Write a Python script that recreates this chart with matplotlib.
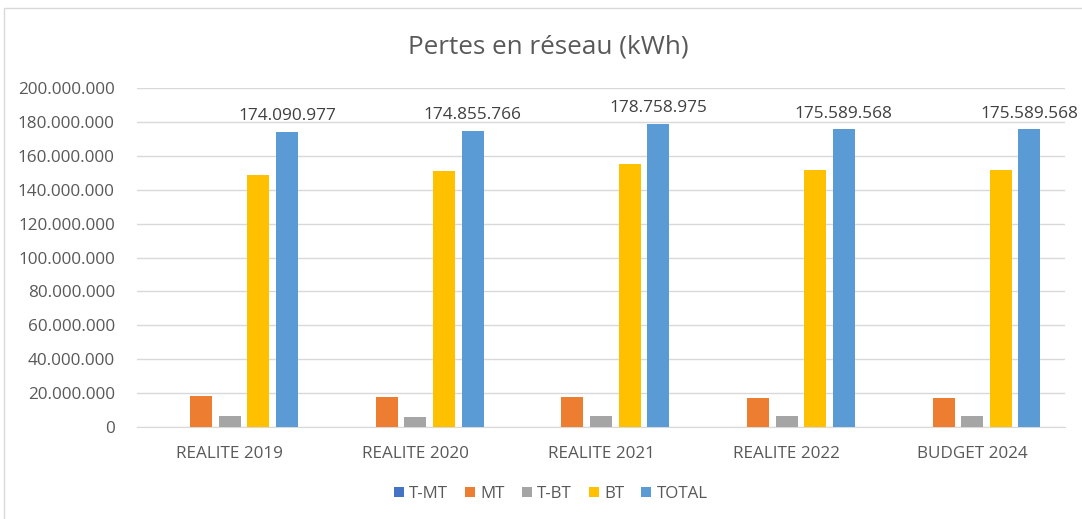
import numpy as np
import matplotlib.pyplot as plt
from matplotlib.patches import Rectangle

# Data
categories = ["REALITE 2019", "REALITE 2020", "REALITE 2021", "REALITE 2022", "BUDGET 2024"]
series_names = ["T-MT", "MT", "T-BT", "BT", "TOTAL"]
t_mt = [0, 0, 0, 0, 0]
mt = [18_500_000, 17_400_000, 17_400_000, 17_200_000, 17_200_000]
t_bt = [6_400_000, 5_800_000, 6_400_000, 6_400_000, 6_400_000]
bt = [148_700_000, 150_800_000, 154_900_000, 151_600_000, 151_600_000]
total = [174_090_977, 174_855_766, 178_758_975, 175_589_568, 175_589_568]
colors = ["#4472C4", "#ED7D31", "#A5A5A5", "#FFC000", "#5B9BD5"]

def fmt(v):
    return f"{v:,.0f}".replace(",", ".")

plt.rcParams['font.family'] = ['Open Sans', 'DejaVu Sans']
fig = plt.figure(figsize=(10.82, 5.19), dpi=100)
ax = fig.add_axes([0.1266, 0.1773, 0.8577, 0.653])

# outer chart frame
fig.patches.append(Rectangle((0.004, -0.01), 1.1, 0.995, transform=fig.transFigure,
                             fill=False, edgecolor="#d9d9d9", linewidth=1))

x = np.arange(len(categories))
slot = 0.154
width = 0.119
all_series = [t_mt, mt, t_bt, bt, total]
for i, (name, vals) in enumerate(zip(series_names, all_series)):
    pos = x + (i - 2) * slot
    bars = ax.bar(pos, vals, width, color=colors[i], label=name, zorder=3)
    if name == "TOTAL":
        for p, v in zip(pos, vals):
            ax.text(p, v + 4_500_000, fmt(v), ha="center", va="bottom",
                    fontsize=12.4, color="#404040")

ax.set_xlim(-0.5, 4.5)
ax.set_ylim(0, 200_000_000)
ax.set_yticks(np.arange(0, 200_000_001, 20_000_000))
ax.set_yticklabels([fmt(v) for v in np.arange(0, 200_000_001, 20_000_000)])
ax.set_xticks(x)
ax.set_xticklabels(categories)
ax.tick_params(axis="both", length=0, labelsize=12.3, colors="#595959")
ax.tick_params(axis="x", pad=14)
ax.tick_params(axis="y", pad=16)
ax.grid(axis="y", color="#d9d9d9", linewidth=1, zorder=0)
for s in ["top", "right", "left"]:
    ax.spines[s].set_visible(False)
ax.spines["bottom"].set_color("#d9d9d9")

fig.text(0.507, 0.91, "Pertes en réseau (kWh)", ha="center", va="center",
         fontsize=18.8, color="#595959")

fig.legend(loc="center", bbox_to_anchor=(0.509, 0.048), ncol=5, frameon=False,
           fontsize=12.2, handlelength=0.6, handleheight=0.6, handletextpad=0.3,
           columnspacing=1.0, labelcolor="#595959")

fig.savefig("out.png", dpi=100)
